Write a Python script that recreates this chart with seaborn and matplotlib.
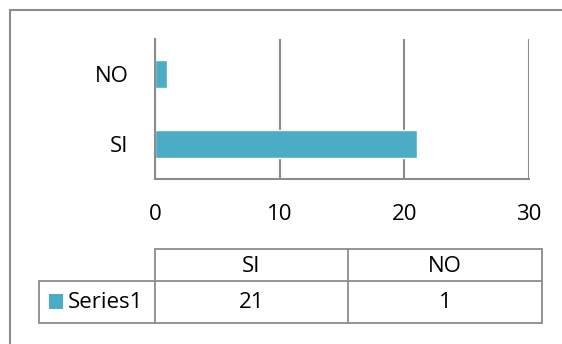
import matplotlib
matplotlib.use("Agg")
import matplotlib.pyplot as plt
from matplotlib.patches import Rectangle
from matplotlib.lines import Line2D
import seaborn as sns
import pandas as pd

# chart data
categories = ["SI", "NO"]
values = [21, 1]
series_name = "Series1"
x_ticks = [0, 10, 20, 30]

bar_color = "#4BACC6"
line_color = "#8C8C8C"

sns.set_style("white")
plt.rcParams["font.family"] = ["Open Sans", "DejaVu Sans"]
plt.rcParams["font.size"] = 16
plt.rcParams["text.color"] = "black"
plt.rcParams["xtick.color"] = "black"
plt.rcParams["ytick.color"] = "black"

W, H = 562, 344
fig = plt.figure(figsize=(W / 100, H / 100), dpi=100)


def fx(px):
    return px / W


def fy(py):
    return 1 - py / H


# plot area (pixel box from the reference)
left, right, top, bottom = 155, 529, 39, 179
ax = fig.add_axes([fx(left), fy(bottom), fx(right - left), (bottom - top) / H])

df = pd.DataFrame({"category": categories, "value": values})
# Excel draws the first category at the bottom
sns.barplot(data=df, x="value", y="category", order=categories[::-1],
            color=bar_color, saturation=1, width=0.39, orient="h", ax=ax)

ax.set_xlim(x_ticks[0], x_ticks[-1])
ax.set_xticks(x_ticks)
ax.set_xlabel("")
ax.set_ylabel("")
ax.grid(axis="x", color=line_color, linewidth=1.5)
ax.grid(axis="y", visible=False)
ax.set_axisbelow(True)
for side in ["top", "right"]:
    ax.spines[side].set_visible(False)
for side in ["left", "bottom"]:
    ax.spines[side].set_color(line_color)
    ax.spines[side].set_linewidth(1.5)
ax.tick_params(axis="x", length=0, pad=18, labelcolor="black")
ax.tick_params(axis="y", length=0, pad=19, labelcolor="black")

# data table under the chart
col_edges = [155, 348, 542]
row_top, row_mid, row_bot = 249, 281, 323
label_left = 39


def hline(x0, x1, y):
    fig.add_artist(Line2D([fx(x0), fx(x1)], [fy(y), fy(y)], color=line_color, lw=1.3))


def vline(x, y0, y1):
    fig.add_artist(Line2D([fx(x), fx(x)], [fy(y0), fy(y1)], color=line_color, lw=1.3))


hline(col_edges[0], col_edges[-1], row_top)
hline(label_left, col_edges[-1], row_mid)
hline(label_left, col_edges[-1], row_bot)
for x in col_edges:
    vline(x, row_top, row_bot)
vline(label_left, row_mid, row_bot)

for i, (cat, val) in enumerate(zip(categories, values)):
    cx = (col_edges[i] + col_edges[i + 1]) / 2
    fig.text(fx(cx), fy((row_top + row_mid) / 2 + 2), cat, ha="center", va="center")
    fig.text(fx(cx), fy((row_mid + row_bot) / 2 + 1), str(val), ha="center", va="center")

fig.add_artist(Rectangle((fx(49), fy(309)), fx(14), 15 / H, transform=fig.transFigure,
                         facecolor=bar_color, edgecolor="none"))
fig.text(fx(68), fy((row_mid + row_bot) / 2 + 1), series_name, ha="left", va="center")

# outer chart frame (cut off at the right and bottom in the reference)
fig.add_artist(Line2D([fx(10), fx(10)], [fy(9.5), 0], color=line_color, lw=1.5))
fig.add_artist(Line2D([fx(10), 1], [fy(9.5), fy(9.5)], color=line_color, lw=1.5))

fig.savefig("out.png", dpi=100)
